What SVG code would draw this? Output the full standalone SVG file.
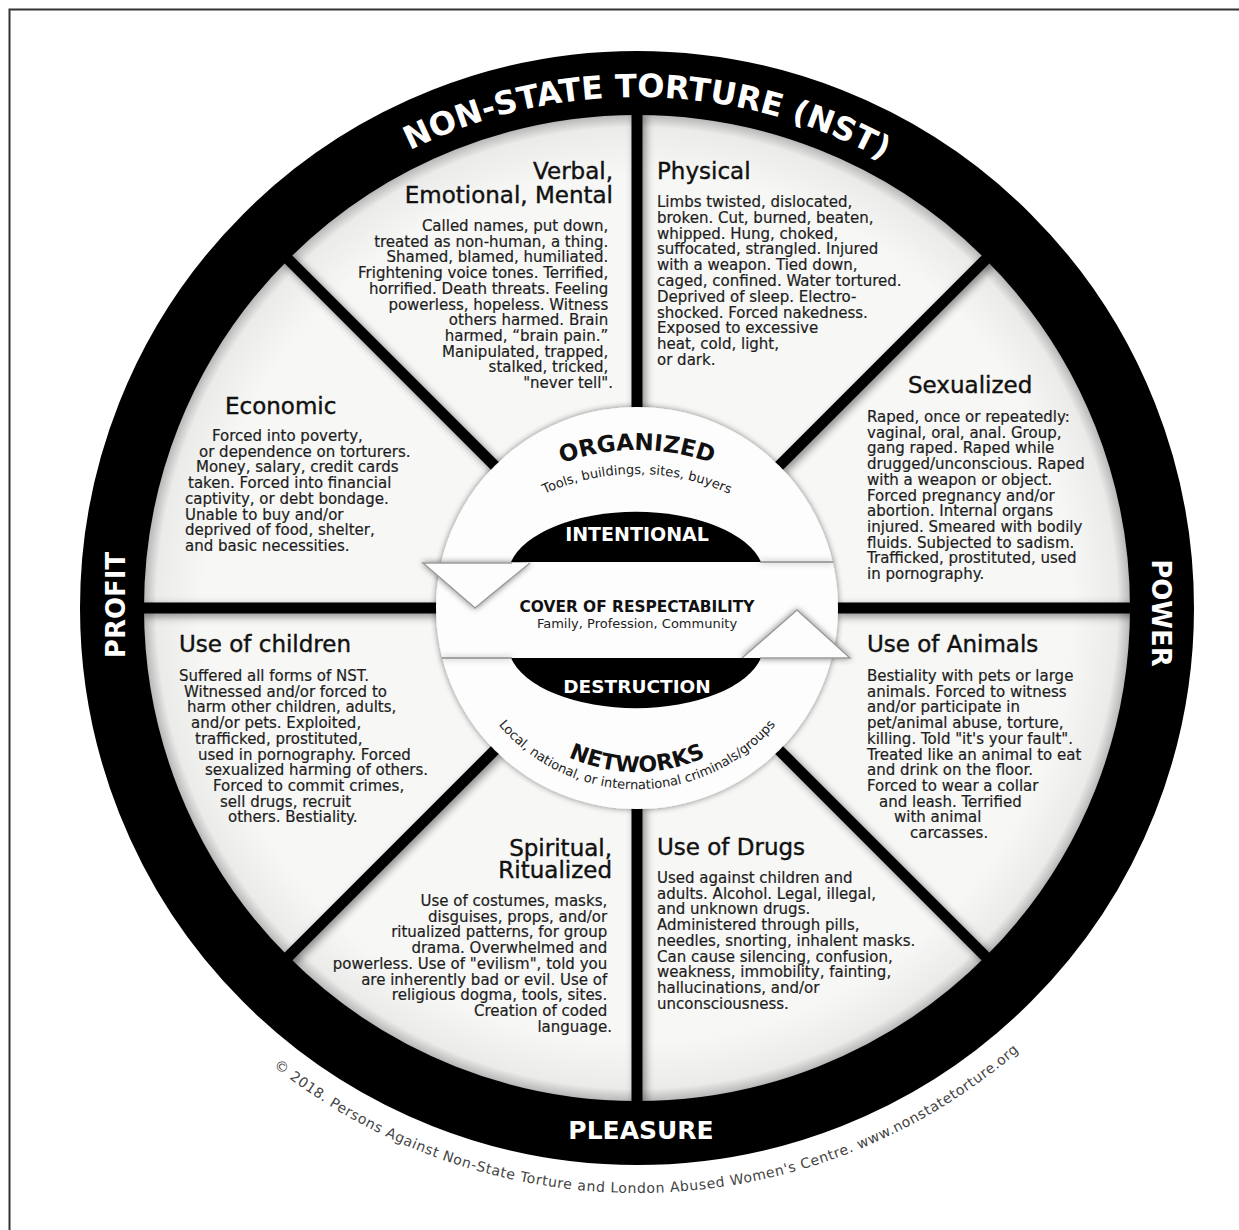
<svg xmlns="http://www.w3.org/2000/svg" width="1239" height="1230" viewBox="0 0 1239 1230">
<style>
text { font-family: "DejaVu Sans", "Liberation Sans", sans-serif; }
.h { font-size: 23px; fill: #111; stroke: #111; stroke-width: 0.4px; }
.b { font-size: 15px; fill: #1d1d1d; stroke: #1d1d1d; stroke-width: 0.2px; }
.e { text-anchor: end; }
.m { text-anchor: middle; }
.ring { font-weight: bold; fill: #fff; }
.core { font-weight: bold; fill: #111; }
.small { font-size: 13px; fill: #222; }
.div { stroke: #000; stroke-width: 11; fill: none; }
.edge { stroke: #9a9a9a; stroke-width: 1.5; fill: #fdfdfd; stroke-linejoin: miter; }
</style>
<defs>
<radialGradient id="sg" cx="637" cy="608" r="493" gradientUnits="userSpaceOnUse">
<stop offset="0.88" stop-color="#f7f7f5"/>
<stop offset="0.975" stop-color="#ebebe9"/>
<stop offset="1" stop-color="#b8b8b8"/>
</radialGradient>
<filter id="sh" filterUnits="userSpaceOnUse" x="0" y="0" width="1239" height="1230">
<feGaussianBlur in="SourceAlpha" stdDeviation="4"/>
<feOffset dx="3" dy="3"/>
<feComponentTransfer><feFuncA type="linear" slope="0.45"/></feComponentTransfer>
<feMerge><feMergeNode/><feMergeNode in="SourceGraphic"/></feMerge>
</filter>
<filter id="sh2" filterUnits="userSpaceOnUse" x="0" y="0" width="1239" height="1230">
<feGaussianBlur in="SourceAlpha" stdDeviation="3"/>
<feComponentTransfer><feFuncA type="linear" slope="0.5"/></feComponentTransfer>
<feMerge><feMergeNode/><feMergeNode in="SourceGraphic"/></feMerge>
</filter>
<path id="pTop" d="M194.5,352.5 A511,511 0 0 1 1079.5,352.5"/>
<path id="pCopy" d="M130.4,900.5 A585,585 0 0 0 1143.6,900.5"/>
<path id="pOrg" d="M495.6,501.5 A220,220 0 0 1 778.4,501.5"/>
<path id="pTools" d="M492.4,526.6 A225,225 0 0 1 781.6,526.6"/>
<path id="pNet" d="M495,690 A164,164 0 0 0 779,690"/>
<path id="pLocal" d="M458.7,639.4 A181,181 0 0 0 815.3,639.4"/>
</defs>

<rect x="0" y="0" width="1239" height="1230" fill="#fff"/>
<rect x="9.5" y="9.5" width="1250" height="1250" fill="none" stroke="#333" stroke-width="2"/>

<g id="wheel-background">
<circle cx="637" cy="608" r="494" fill="url(#sg)"/>
</g>

<g id="dividers" filter="url(#sh)">
<line class="div" x1="637" y1="110" x2="637" y2="412"/>
<line class="div" x1="637" y1="804" x2="637" y2="1106"/>
<line class="div" x1="138" y1="608" x2="440" y2="608"/>
<line class="div" x1="834" y1="608" x2="1136" y2="608"/>
<line class="div" x1="495.6" y1="466.6" x2="283.6" y2="254.6"/>
<line class="div" x1="778.4" y1="466.6" x2="990.4" y2="254.6"/>
<line class="div" x1="495.6" y1="749.4" x2="283.6" y2="961.4"/>
<line class="div" x1="778.4" y1="749.4" x2="990.4" y2="961.4"/>
</g>

<g id="outer-ring">
<circle cx="637" cy="608" r="525" fill="none" stroke="#000" stroke-width="64"/>
<text class="ring" font-size="32"><textPath href="#pTop" startOffset="51%" text-anchor="middle">NON-STATE TORTURE (NST)</textPath></text>
<text class="ring m" font-size="26" transform="translate(124.5,605) rotate(-90)" x="0" y="0">PROFIT</text>
<text class="ring m" font-size="26" transform="translate(1152,613) rotate(90)" x="0" y="0">POWER</text>
<text class="ring m" font-size="25" x="641" y="1139">PLEASURE</text>
</g>

<g id="copyright">
<text font-size="14" fill="#444" letter-spacing="0.6"><textPath href="#pCopy" startOffset="51%" text-anchor="middle">© 2018. Persons Against Non-State Torture and London Abused Women's Centre. www.nonstatetorture.org</textPath></text>
</g>

<g id="core">
<circle cx="637" cy="608" r="201" fill="#fdfdfd" filter="url(#sh2)"/>
<path d="M511,562 A128,64 0 0 1 761,562 Z" fill="#000"/>
<path d="M511,658 A128,64 0 0 0 761,658 Z" fill="#000"/>
<text class="core m" font-size="19" x="637" y="541" style="fill:#fff">INTENTIONAL</text>
<text class="core m" font-size="18.5" x="637" y="693" style="fill:#fff">DESTRUCTION</text>
<text class="core m" font-size="15.4" x="637" y="612">COVER OF RESPECTABILITY</text>
<text class="m" font-size="13" x="637" y="628" fill="#222">Family, Profession, Community</text>
<text class="core" font-size="23"><textPath href="#pOrg" startOffset="50%" text-anchor="middle">ORGANIZED</textPath></text>
<text class="small"><textPath href="#pTools" startOffset="50%" text-anchor="middle">Tools, buildings, sites, buyers</textPath></text>
<text class="core" font-size="22"><textPath href="#pNet" startOffset="50%" text-anchor="middle">NETWORKS</textPath></text>
<text class="small"><textPath href="#pLocal" startOffset="50%" text-anchor="middle">Local, national, or international criminals/groups</textPath></text>
</g>

<g id="cycle-arrows" filter="url(#sh2)">
<path d="M760,562 H833" stroke="#8a8a8a" stroke-width="1.5" fill="none"/>
<path class="edge" d="M512,563 H423 L475,608 L530,563"/>
<path d="M442,658 H512" stroke="#8a8a8a" stroke-width="1.5" fill="none"/>
<path class="edge" d="M760,658 H850 L797,610 L742,658"/>
</g>

<g id="sector-verbal">
<text class="h e" x="613" y="179">Verbal,</text>
<text class="h e" x="613" y="203">Emotional, Mental</text>
<text class="b e">
<tspan x="613" y="231">Called names, put down,</tspan>
<tspan x="613" dy="15.7">treated as non-human, a thing.</tspan>
<tspan x="613" dy="15.7">Shamed, blamed, humiliated.</tspan>
<tspan x="613" dy="15.7">Frightening voice tones. Terrified,</tspan>
<tspan x="613" dy="15.7">horrified. Death threats. Feeling</tspan>
<tspan x="613" dy="15.7">powerless, hopeless. Witness</tspan>
<tspan x="613" dy="15.7">others harmed. Brain</tspan>
<tspan x="613" dy="15.7">harmed, “brain pain.”</tspan>
<tspan x="613" dy="15.7">Manipulated, trapped,</tspan>
<tspan x="613" dy="15.7">stalked, tricked,</tspan>
<tspan x="613" dy="15.7">"never tell".</tspan>
</text>
</g>

<g id="sector-physical">
<text class="h" x="657" y="179">Physical</text>
<text class="b">
<tspan x="657" y="207">Limbs twisted, dislocated,</tspan>
<tspan x="657" dy="15.8">broken. Cut, burned, beaten,</tspan>
<tspan x="657" dy="15.8">whipped. Hung, choked,</tspan>
<tspan x="657" dy="15.8">suffocated, strangled. Injured</tspan>
<tspan x="657" dy="15.8">with a weapon. Tied down,</tspan>
<tspan x="657" dy="15.8">caged, confined. Water tortured.</tspan>
<tspan x="657" dy="15.8">Deprived of sleep.  Electro-</tspan>
<tspan x="657" dy="15.8">shocked. Forced nakedness.</tspan>
<tspan x="657" dy="15.8">Exposed to excessive</tspan>
<tspan x="657" dy="15.8">heat, cold, light,</tspan>
<tspan x="657" dy="15.8">or dark.</tspan>
</text>
</g>

<g id="sector-economic">
<text class="h" x="225" y="414">Economic</text>
<text class="b">
<tspan x="212" y="441">Forced into poverty,</tspan>
<tspan x="199" dy="15.7">or dependence on torturers.</tspan>
<tspan x="196" dy="15.7">Money, salary, credit cards</tspan>
<tspan x="188" dy="15.7">taken. Forced into financial</tspan>
<tspan x="185" dy="15.7">captivity, or debt bondage.</tspan>
<tspan x="185" dy="15.7">Unable to buy and/or</tspan>
<tspan x="185" dy="15.7">deprived of food, shelter,</tspan>
<tspan x="185" dy="15.7">and basic necessities.</tspan>
</text>
</g>

<g id="sector-sexualized">
<text class="h" x="908" y="393">Sexualized</text>
<text class="b">
<tspan x="867" y="422">Raped, once or repeatedly:</tspan>
<tspan x="867" dy="15.7">vaginal, oral, anal. Group,</tspan>
<tspan x="867" dy="15.7">gang raped. Raped while</tspan>
<tspan x="867" dy="15.7">drugged/unconscious. Raped</tspan>
<tspan x="867" dy="15.7">with a weapon or object.</tspan>
<tspan x="867" dy="15.7">Forced pregnancy and/or</tspan>
<tspan x="867" dy="15.7">abortion. Internal organs</tspan>
<tspan x="867" dy="15.7">injured. Smeared with bodily</tspan>
<tspan x="867" dy="15.7">fluids. Subjected to sadism.</tspan>
<tspan x="867" dy="15.7">Trafficked, prostituted, used</tspan>
<tspan x="867" dy="15.7">in pornography.</tspan>
</text>
</g>

<g id="sector-children">
<text class="h" x="179" y="652">Use of children</text>
<text class="b">
<tspan x="179" y="681">Suffered all forms of NST.</tspan>
<tspan x="184" dy="15.7">Witnessed and/or forced to</tspan>
<tspan x="187" dy="15.7">harm other children, adults,</tspan>
<tspan x="191" dy="15.7">and/or pets. Exploited,</tspan>
<tspan x="195" dy="15.7">trafficked, prostituted,</tspan>
<tspan x="198" dy="15.7">used in pornography. Forced</tspan>
<tspan x="205" dy="15.7">sexualized harming of others.</tspan>
<tspan x="213" dy="15.7">Forced to commit crimes,</tspan>
<tspan x="220" dy="15.7">sell drugs, recruit</tspan>
<tspan x="228" dy="15.7">others. Bestiality.</tspan>
</text>
</g>

<g id="sector-animals">
<text class="h" x="867" y="652">Use of Animals</text>
<text class="b">
<tspan x="867" y="681">Bestiality with pets or large</tspan>
<tspan x="867" dy="15.7">animals. Forced to witness</tspan>
<tspan x="867" dy="15.7">and/or participate in</tspan>
<tspan x="867" dy="15.7">pet/animal abuse, torture,</tspan>
<tspan x="867" dy="15.7">killing. Told "it's your fault".</tspan>
<tspan x="867" dy="15.7">Treated like an animal to eat</tspan>
<tspan x="867" dy="15.7">and drink on the floor.</tspan>
<tspan x="867" dy="15.7">Forced to wear a collar</tspan>
<tspan x="879" dy="15.7">and leash. Terrified</tspan>
<tspan x="894" dy="15.7">with animal</tspan>
<tspan x="910" dy="15.7">carcasses.</tspan>
</text>
</g>

<g id="sector-spiritual">
<text class="h e" x="612" y="856">Spiritual,</text>
<text class="h e" x="612" y="878">Ritualized</text>
<text class="b e">
<tspan x="612" y="906">Use of costumes, masks,</tspan>
<tspan x="612" dy="15.7">disguises, props, and/or</tspan>
<tspan x="612" dy="15.7">ritualized patterns, for group</tspan>
<tspan x="612" dy="15.7">drama. Overwhelmed and</tspan>
<tspan x="612" dy="15.7">powerless. Use of "evilism", told you</tspan>
<tspan x="612" dy="15.7">are inherently bad or evil. Use of</tspan>
<tspan x="612" dy="15.7">religious dogma, tools, sites.</tspan>
<tspan x="612" dy="15.7">Creation of coded</tspan>
<tspan x="612" dy="15.7">language.</tspan>
</text>
</g>

<g id="sector-drugs">
<text class="h" x="657" y="855">Use of Drugs</text>
<text class="b">
<tspan x="657" y="883">Used against children and</tspan>
<tspan x="657" dy="15.7">adults. Alcohol. Legal, illegal,</tspan>
<tspan x="657" dy="15.7">and unknown drugs.</tspan>
<tspan x="657" dy="15.7">Administered through pills,</tspan>
<tspan x="657" dy="15.7">needles, snorting, inhalent masks.</tspan>
<tspan x="657" dy="15.7">Can cause silencing, confusion,</tspan>
<tspan x="657" dy="15.7">weakness, immobility, fainting,</tspan>
<tspan x="657" dy="15.7">hallucinations, and/or</tspan>
<tspan x="657" dy="15.7">unconsciousness.</tspan>
</text>
</g>
</svg>
